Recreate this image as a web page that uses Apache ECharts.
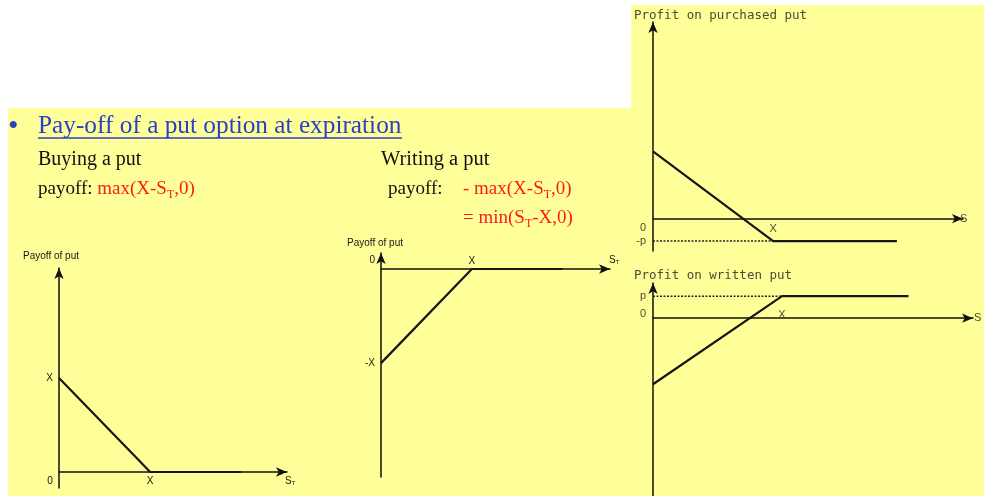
<!DOCTYPE html>
<html>
<head>
<meta charset="utf-8">
<script src="https://cdn.jsdelivr.net/npm/echarts@6/dist/echarts.min.js"></script>
<style>
  html, body { margin: 0; padding: 0; background: #fff; }
  #chart { width: 984px; height: 496px; }
</style>
</head>
<body>
<div id="chart"></div>
<script>
// strike X = 100, premium p = 25 (chart units)
const buyPayoff = [[0, 100], [100, 0], [200, 0]]
const writePayoff = [[0, -100], [100, 0], [200, 0]]
const buyProfit = [[0, 75], [100, -25], [203, -25]]
const buyPremium = [[0, -25], [100, -25]]
const writeProfit = [[0, -75], [100, 25], [198, 25]]
const writePremium = [[0, 25], [100, 25]]

// tick positions and their labels
const buyPayoffXTicks = [0, 100]
const buyPayoffXLabels = ['{lo|0}', 'X']
const buyPayoffYTicks = [100]
const buyPayoffYLabels = ['X']
const writePayoffXTicks = [100]
const writePayoffXLabels = ['X']
const writePayoffYTicks = [0, -100]
const writePayoffYLabels = ['{up|0}', '-X']
const buyProfitXTicks = [100]
const buyProfitXLabels = ['X']
const buyProfitYTicks = [0, -25]
const buyProfitYLabels = ['{dn|0}', '-p']
const writeProfitXTicks = [100]
const writeProfitXLabels = ['X']
const writeProfitYTicks = [25, 0]
const writeProfitYLabels = ['p', '{up|0}']

const YELLOW = '#ffff99'
const INK = '#161616'
const GREY = '#4d4a36'
const SANS = 'Liberation Sans, Arial, sans-serif'
const SERIF = 'Liberation Serif, Times New Roman, serif'

const chart = echarts.init(document.getElementById('chart'), null, { renderer: 'canvas' })

function pick(ticks, labels) {
  return (v) => labels[ticks.indexOf(v)]
}

function line(color) {
  return {
    show: true,
    onZero: true,
    symbol: ['none', 'arrow'],
    symbolSize: [7, 11],
    lineStyle: { color: color, width: 1.5 },
  }
}

const subRich = {
  s: { fontSize: 10, fontFamily: SANS, color: INK },
  t: { fontSize: 6, fontFamily: SANS, color: INK, padding: [5, 0, 0, 0] },
}

function xAxis(i, o) {
  return {
    type: 'value',
    gridIndex: i,
    min: o.min, max: o.max,
    position: o.position || 'bottom',
    axisLine: line(o.lineColor || '#111'),
    axisTick: { show: false },
    splitLine: { show: false },
    axisLabel: {
      customValues: o.ticks,
      formatter: pick(o.ticks, o.labels),
      margin: o.margin,
      color: o.color || INK,
      fontSize: o.fontSize || 10,
      fontFamily: SANS,
      rich: o.labelRich || {},
    },
    name: o.name,
    nameLocation: 'end',
    nameGap: o.nameGap,
    nameMoveOverlap: false,
    nameTextStyle: {
      align: 'left', verticalAlign: 'middle',
      padding: o.namePad, color: o.color || INK,
      fontSize: o.fontSize || 10, fontFamily: SANS,
      rich: o.nameRich,
    },
  }
}

function yAxis(i, o) {
  return {
    type: 'value',
    gridIndex: i,
    min: o.min, max: o.max,
    axisLine: line(o.lineColor || '#111'),
    axisTick: { show: false },
    splitLine: { show: false },
    axisLabel: {
      customValues: o.ticks,
      formatter: pick(o.ticks, o.labels),
      margin: o.margin,
      color: o.color || INK,
      fontSize: o.fontSize || 10,
      fontFamily: SANS,
      rich: o.labelRich || {},
    },
    name: o.name || '',
    nameLocation: 'end',
    nameGap: o.nameGap || 10,
    nameMoveOverlap: false,
    nameTextStyle: {
      align: 'center', verticalAlign: 'middle',
      padding: o.namePad || 0, color: o.color || INK,
      fontSize: 10, fontFamily: SANS,
    },
  }
}

function series(x, y, data, dotted) {
  return {
    type: 'line',
    xAxisIndex: x, yAxisIndex: y,
    data: data,
    symbol: 'none',
    silent: true,
    z: dotted ? 1 : 3,
    lineStyle: dotted
      ? { color: '#222', width: 1.5, type: [2, 1.5] }
      : { color: INK, width: 2.2 },
  }
}

const grid = (l, t, w, h) => ({ left: l, top: t, width: w, height: h, containLabel: false, outerBoundsMode: 'none' })

const redRich = {
  k: { fill: '#111', font: '19px ' + SERIF },
  r: { fill: '#ff1a1a', font: '19px ' + SERIF },
  sub: { fill: '#ff1a1a', font: '12px ' + SERIF, padding: [12, 0, 0, 0] },
}

chart.setOption({
  animation: false,
  backgroundColor: '#fff',
  grid: [
    grid(59, 268, 228, 220),
    grid(381, 253, 229, 224),
    grid(653, 22, 310, 229),
    grid(653, 283, 320, 213),
  ],
  xAxis: [
    xAxis(0, {
      min: 0, max: 250, ticks: buyPayoffXTicks, labels: buyPayoffXLabels, margin: -12,
      labelRich: { lo: { padding: [0, 18, 0, 0], fontSize: 10, fontFamily: SANS, color: INK } },
      name: '{s|S}{t|T}', nameRich: subRich, nameGap: -2, namePad: [18, 0, 0, 0],
    }),
    xAxis(1, {
      min: 0, max: 252, position: 'top', ticks: writePayoffXTicks, labels: writePayoffXLabels, margin: -13,
      name: '{s|S}{t|T}', nameRich: subRich, nameGap: -1, namePad: [0, 0, 18, 0],
    }),
    xAxis(2, {
      min: 0, max: 258, ticks: buyProfitXTicks, labels: buyProfitXLabels, margin: -28,
      color: GREY, fontSize: 11, name: 'S', nameGap: -3, namePad: [18, 0, 0, 0],
    }),
    xAxis(3, {
      min: 0, max: 248, position: 'top', ticks: writeProfitXTicks, labels: writeProfitXLabels, margin: -37,
      color: GREY, fontSize: 11, name: 'S', nameGap: 1, namePad: [0, 0, 10, 0],
    }),
  ],
  yAxis: [
    yAxis(0, {
      min: -17, max: 217, ticks: buyPayoffYTicks, labels: buyPayoffYLabels, margin: 6,
      name: 'Payoff of put', nameGap: 12, namePad: [0, 16, 0, 0],
    }),
    yAxis(1, {
      min: -221, max: 17, ticks: writePayoffYTicks, labels: writePayoffYLabels, margin: 6,
      labelRich: { up: { padding: [0, 0, 18, 0], fontSize: 10, fontFamily: SANS, color: INK } },
      name: 'Payoff of put', nameGap: 10, namePad: [0, 12, 0, 0],
    }),
    yAxis(2, {
      min: -36, max: 219, ticks: buyProfitYTicks, labels: buyProfitYLabels, margin: 7,
      color: GREY, fontSize: 11,
      labelRich: { dn: { padding: [18, 0, 0, 0], fontSize: 11, fontFamily: SANS, color: GREY } },
    }),
    yAxis(3, {
      min: -202, max: 40, ticks: writeProfitYTicks, labels: writeProfitYLabels, margin: 7,
      color: GREY, fontSize: 11,
      labelRich: { up: { padding: [0, 0, 9, 0], fontSize: 11, fontFamily: SANS, color: GREY } },
    }),
  ],
  series: [
    series(0, 0, buyPayoff),
    series(1, 1, writePayoff),
    series(2, 2, buyProfit),
    series(2, 2, buyPremium, true),
    series(3, 3, writeProfit),
    series(3, 3, writePremium, true),
  ],
  graphic: [
    { type: 'rect', z: -10, silent: true, shape: { x: 8, y: 108, width: 624, height: 388 }, style: { fill: YELLOW } },
    { type: 'rect', z: -10, silent: true, shape: { x: 631, y: 5, width: 353, height: 491 }, style: { fill: YELLOW } },
    { type: 'text', x: 8, y: 127, style: { text: '•', fill: '#2b3fc4', font: '30px ' + SERIF, verticalAlign: 'middle' } },
    { type: 'text', x: 38, y: 126, style: { text: 'Pay-off of a put option at expiration', fill: '#2b3fc4', font: '25.3px ' + SERIF, verticalAlign: 'middle' } },
    { type: 'line', shape: { x1: 38, y1: 138, x2: 402, y2: 138 }, style: { stroke: '#2b3fc4', lineWidth: 1.3 } },
    { type: 'text', x: 38, y: 160, style: { text: 'Buying a put', fill: '#111', font: '20px ' + SERIF, verticalAlign: 'middle' } },
    { type: 'text', x: 381, y: 160, style: { text: 'Writing a put', fill: '#111', font: '20.5px ' + SERIF, verticalAlign: 'middle' } },
    {
      type: 'text', x: 38, y: 189,
      style: { text: '{k|payoff:\u00a0}{r|max(X-S}{sub|T}{r|,0)}', verticalAlign: 'middle', rich: redRich },
    },
    { type: 'text', x: 388, y: 189, style: { text: 'payoff:', fill: '#111', font: '19px ' + SERIF, verticalAlign: 'middle' } },
    {
      type: 'text', x: 463, y: 189,
      style: { text: '{r|-\u00a0max(X-S}{sub|T}{r|,0)}', verticalAlign: 'middle', rich: redRich },
    },
    {
      type: 'text', x: 463, y: 218,
      style: { text: '{r|=\u00a0min(S}{sub|T}{r|-X,0)}', verticalAlign: 'middle', rich: redRich },
    },
    { type: 'text', x: 634, y: 16, style: { text: 'Profit on purchased put', fill: GREY, font: '12.5px DejaVu Sans Mono, monospace', verticalAlign: 'middle' } },
    { type: 'text', x: 634, y: 276, style: { text: 'Profit on written put', fill: GREY, font: '12.5px DejaVu Sans Mono, monospace', verticalAlign: 'middle' } },
  ],
})
</script>
</body>
</html>
